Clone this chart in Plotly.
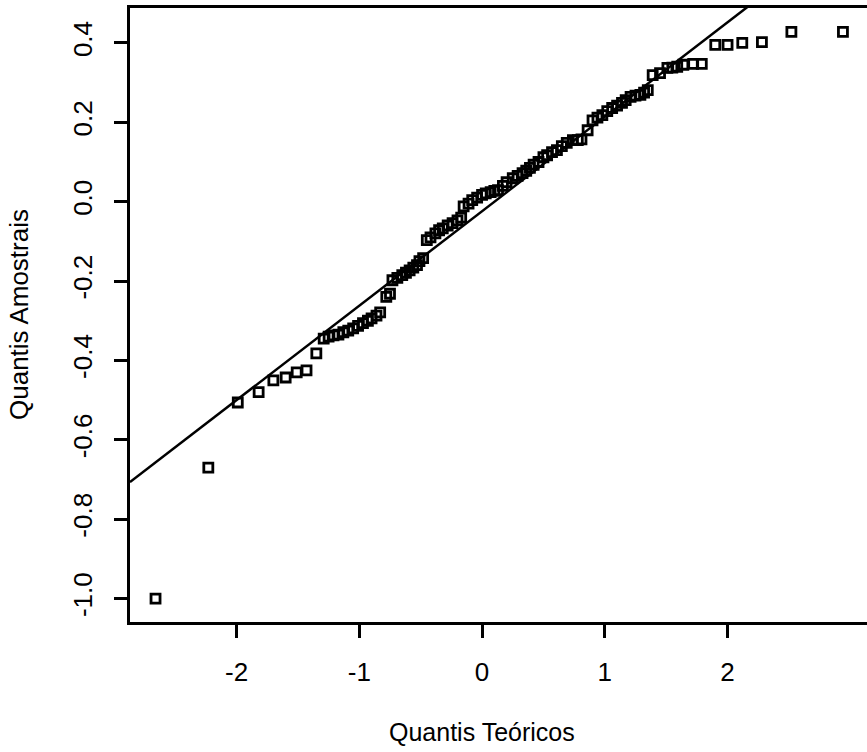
import plotly.graph_objects as go

# Sample points (theoretical quantile, sample quantile)
theo_q = [-2.66, -2.23, -1.99, -1.82, -1.70, -1.60, -1.51, -1.43, -1.35, -1.29,
          -1.25, -1.21, -1.17, -1.13, -1.09, -1.05, -1.01, -0.97, -0.93, -0.90,
          -0.86, -0.83, -0.78, -0.75, -0.73, -0.69, -0.65, -0.62, -0.59, -0.56,
          -0.53, -0.51, -0.48, -0.45, -0.42, -0.38, -0.35, -0.32, -0.28, -0.24,
          -0.20, -0.17, -0.15, -0.11, -0.08, -0.04, 0.00, 0.03, 0.07, 0.10,
          0.13, 0.17, 0.20, 0.25, 0.29, 0.33, 0.36, 0.39, 0.42, 0.46,
          0.50, 0.53, 0.57, 0.61, 0.65, 0.69, 0.74, 0.78, 0.81, 0.86,
          0.90, 0.94, 0.98, 1.02, 1.06, 1.10, 1.14, 1.17, 1.21, 1.25,
          1.29, 1.32, 1.35, 1.39, 1.45, 1.51, 1.55, 1.59, 1.64, 1.72,
          1.79, 1.90, 2.00, 2.12, 2.28, 2.52, 2.94]
sample_q = [-1.000, -0.670, -0.506, -0.480, -0.450, -0.443, -0.430, -0.425, -0.382, -0.345,
            -0.340, -0.337, -0.335, -0.329, -0.325, -0.319, -0.313, -0.306, -0.300, -0.294,
            -0.287, -0.279, -0.240, -0.232, -0.198, -0.192, -0.185, -0.179, -0.173, -0.166,
            -0.160, -0.150, -0.142, -0.097, -0.090, -0.080, -0.072, -0.067, -0.060, -0.054,
            -0.047, -0.040, -0.012, -0.005, 0.004, 0.010, 0.017, 0.021, 0.024, 0.027,
            0.029, 0.040, 0.049, 0.059, 0.065, 0.072, 0.078, 0.085, 0.093, 0.100,
            0.112, 0.117, 0.125, 0.130, 0.140, 0.148, 0.155, 0.155, 0.157, 0.180,
            0.205, 0.212, 0.218, 0.228, 0.236, 0.242, 0.249, 0.256, 0.264, 0.267,
            0.269, 0.275, 0.281, 0.319, 0.324, 0.337, 0.338, 0.340, 0.345, 0.347,
            0.347, 0.395, 0.395, 0.400, 0.402, 0.428, 0.428]

# Reference line (qq-line) parameters
line_intercept = -0.024
line_slope = 0.238

x_range = [-2.868, 3.136]
y_range = [-1.059, 0.488]

x_tickvals = [-2, -1, 0, 1, 2]
x_ticktext = ["-2", "-1", "0", "1", "2"]
y_tickvals = [-1.0, -0.8, -0.6, -0.4, -0.2, 0.0, 0.2, 0.4]
y_ticktext = ["-1.0", "-0.8", "-0.6", "-0.4", "-0.2", "0.0", "0.2", "0.4"]

x_title = "Quantis Teóricos"
y_title = "Quantis Amostrais"

FONT = "Liberation Sans, Arial, sans-serif"

fig = go.Figure()
fig.add_trace(go.Scatter(
    x=theo_q, y=sample_q, mode="markers",
    marker=dict(symbol="square-open", size=9, color="black",
                line=dict(color="black", width=2.8)),
    showlegend=False, hoverinfo="x+y"))

lx = [x_range[0], x_range[1]]
ly = [line_intercept + line_slope * v for v in lx]
fig.add_trace(go.Scatter(x=lx, y=ly, mode="lines",
                         line=dict(color="black", width=2.5),
                         showlegend=False, hoverinfo="skip"))

fig.update_layout(
    width=867, height=752,
    margin=dict(l=130, r=0, t=8, b=130),
    paper_bgcolor="white", plot_bgcolor="white",
    font=dict(family=FONT, size=25, color="black"),
    xaxis=dict(range=x_range, tickvals=x_tickvals, ticktext=x_ticktext,
               showgrid=False, zeroline=False, showline=True, linecolor="black",
               linewidth=3, mirror=True, ticks="outside", ticklen=13,
               tickwidth=2.5, tickcolor="black", ticklabelstandoff=12,
               tickfont=dict(family=FONT, size=26, color="black")),
    yaxis=dict(range=y_range, tickvals=y_tickvals, ticktext=y_ticktext,
               showgrid=False, zeroline=False, showline=True, linecolor="black",
               linewidth=3, mirror=False, ticks="outside", ticklen=13,
               tickwidth=2.5, tickcolor="black", tickangle=-90,
               ticklabelstandoff=12,
               tickfont=dict(family=FONT, size=26, color="black")),
    annotations=[
        dict(text=x_title, xref="paper", yref="paper",
             x=(482 - 130) / 737, y=-(731 - 621.5) / 613.5,
             xanchor="center", yanchor="middle", showarrow=False,
             font=dict(family=FONT, size=25, color="black")),
        dict(text=y_title, xref="paper", yref="paper",
             x=-(130 - 19) / 737, y=0.5, textangle=-90,
             xanchor="center", yanchor="middle", showarrow=False,
             font=dict(family=FONT, size=26, color="black")),
    ],
)

fig.write_html("out.html")
